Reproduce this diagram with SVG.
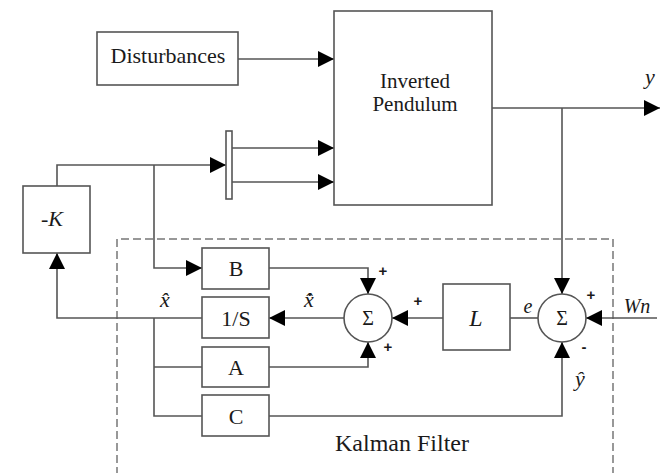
<svg xmlns="http://www.w3.org/2000/svg" width="670" height="473" viewBox="0 0 670 473">
<style>
.box{fill:#fff;stroke:#555;stroke-width:1.6}
.ln{fill:none;stroke:#555;stroke-width:1.6}
.dash{fill:none;stroke:#777;stroke-width:1.5;stroke-dasharray:8 4}
.t{font-family:'Liberation Serif','DejaVu Serif','Times New Roman',serif;fill:#1a1a1a;text-anchor:middle}
.it{font-style:italic}
.sg{font-family:'Liberation Sans','DejaVu Sans',Arial,sans-serif;font-weight:bold;fill:#1a1a1a;text-anchor:middle;font-size:15px}
</style>
<defs>
<marker id="ar" markerUnits="userSpaceOnUse" markerWidth="16" markerHeight="16" refX="16" refY="8" orient="auto" viewBox="0 0 16 16">
<path d="M0,0 L16,8 L0,16 z" fill="#000"/>
</marker>
</defs>
<rect width="670" height="473" fill="#fff"/>
<g id="kalman-frame">
<path class="dash" d="M117,475 V239 H613 V475"/>
<text class="t" x="402" y="451" font-size="24">Kalman Filter</text>
</g>
<g id="connectors">
<path class="ln" d="M238,59 H334" marker-end="url(#ar)"/>
<path class="ln" d="M232,148 H334" marker-end="url(#ar)"/>
<path class="ln" d="M232,182 H334" marker-end="url(#ar)"/>
<path class="ln" d="M57,186 V165 H226" marker-end="url(#ar)"/>
<path class="ln" d="M154,165 V268 H202" marker-end="url(#ar)"/>
<path class="ln" d="M492,108 H660" marker-end="url(#ar)"/>
<path class="ln" d="M562,108 V294" marker-end="url(#ar)"/>
<path class="ln" d="M657,318 H586" marker-end="url(#ar)"/>
<path class="ln" d="M269,416 H562 V342" marker-end="url(#ar)"/>
<path class="ln" d="M538,318 H510"/>
<path class="ln" d="M443,318 H392" marker-end="url(#ar)"/>
<path class="ln" d="M269,268 H368 V294" marker-end="url(#ar)"/>
<path class="ln" d="M269,367 H368 V342" marker-end="url(#ar)"/>
<path class="ln" d="M344,318 H269" marker-end="url(#ar)"/>
<path class="ln" d="M202,318 H57 V253" marker-end="url(#ar)"/>
<path class="ln" d="M154,318 V416 H202 M154,367 H202"/>
</g>
<g id="disturbances">
<rect class="box" x="97" y="32" width="141" height="53"/>
<text class="t" x="168" y="63" font-size="22">Disturbances</text>
</g>
<g id="inverted-pendulum">
<rect class="box" x="334" y="11" width="158" height="194"/>
<text class="t" x="415" y="88" font-size="21">Inverted</text>
<text class="t" x="415" y="111" font-size="21">Pendulum</text>
</g>
<g id="mux">
<rect class="box" x="226" y="131" width="6" height="68"/>
</g>
<g id="gain-k">
<rect class="box" x="23" y="186" width="67" height="67"/>
<text class="t it" x="52" y="226" font-size="22">-K</text>
</g>
<g id="block-b">
<rect class="box" x="202" y="248" width="67" height="41"/>
<text class="t" x="236" y="276" font-size="22">B</text>
</g>
<g id="block-integrator">
<rect class="box" x="202" y="297" width="67" height="41"/>
<text class="t" x="236" y="326" font-size="22">1/S</text>
</g>
<g id="block-a">
<rect class="box" x="202" y="347" width="67" height="40"/>
<text class="t" x="236" y="375" font-size="22">A</text>
</g>
<g id="block-c">
<rect class="box" x="202" y="395" width="67" height="41"/>
<text class="t" x="236" y="424" font-size="22">C</text>
</g>
<g id="sum1">
<circle class="box" cx="368" cy="318" r="24"/>
<text class="t" x="368" y="325" font-size="20">Σ</text>
<text class="sg" x="383" y="276">+</text>
<text class="sg" x="418" y="306">+</text>
<text class="sg" x="388" y="352">+</text>
</g>
<g id="gain-l">
<rect class="box" x="443" y="284" width="67" height="66"/>
<text class="t it" x="476" y="326" font-size="24">L</text>
</g>
<g id="sum2">
<circle class="box" cx="562" cy="318" r="24"/>
<text class="t" x="562" y="325" font-size="20">Σ</text>
<text class="sg" x="591" y="300">+</text>
<text class="sg" x="584" y="352">-</text>
</g>
<g id="labels">
<text class="t it" x="650" y="84" font-size="22">y</text>
<text class="t it" x="165" y="307" font-size="22">x&#x302;</text>
<text class="t it" x="309" y="307" font-size="22">x&#x302;&#x307;</text>
<text class="t it" x="528" y="313" font-size="20">e</text>
<text class="t it" x="637" y="313" font-size="20">Wn</text>
<text class="t it" x="580" y="386" font-size="22">y&#x302;</text>
</g>
</svg>
